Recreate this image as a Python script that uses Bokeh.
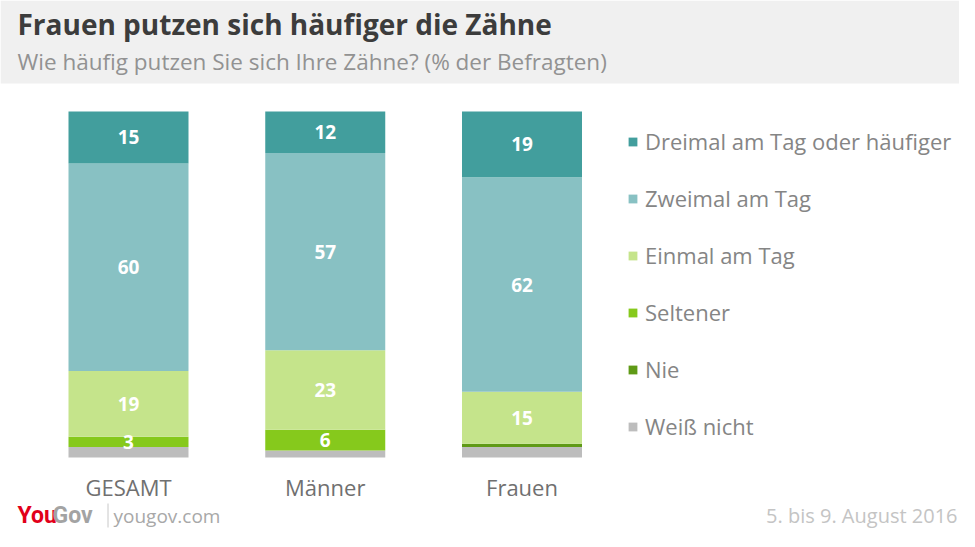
from bokeh.plotting import figure
from bokeh.models import Range1d, Legend, LegendItem, ColumnDataSource, Label, BoxAnnotation
from bokeh.embed import file_html
from bokeh.resources import INLINE
from bokeh.core.properties import value

# ---- data ----
title = "Frauen putzen sich häufiger die Zähne"
subtitle = "Wie häufig putzen Sie sich Ihre Zähne? (% der Befragten)"
groups = ["GESAMT", "Männer", "Frauen"]
series = ["Weiß nicht", "Nie", "Seltener", "Einmal am Tag", "Zweimal am Tag",
          "Dreimal am Tag oder häufiger"]
weiss_nicht = [3, 2, 3]
nie = [0, 0, 1]
seltener = [3, 6, 0]
einmal = [19, 23, 15]
zweimal = [60, 57, 62]
dreimal = [15, 12, 19]
colors = ["#bdbdbd", "#5f9a16", "#86c91c", "#c5e48b", "#88c1c3", "#429e9d"]
source_note = "yougov.com"
date_note = "5. bis 9. August 2016"

# ---- geometry (canvas = frame, pixel positions measured from top-left) ----
W, H = 959, 531
GROUP_PX = 196.75          # pixels between group centres
PCT_PX = 3.46              # pixels per percentage point
X0 = -128 / GROUP_PX       # first bar centred at x=128 px
Y0 = -(H - 457) / PCT_PX   # bar baseline at y=457 px
FONT = "Open Sans"


def dx(px):
    return X0 + px / GROUP_PX


def dy(py):
    return Y0 + (H - py) / PCT_PX


p = figure(width=W, height=H, x_range=Range1d(X0, X0 + W / GROUP_PX),
           y_range=Range1d(Y0, Y0 + H / PCT_PX),
           output_backend="svg", toolbar_location=None, min_border=0)
p.axis.visible = False
p.grid.visible = False
p.outline_line_color = None

# header band
p.add_layout(BoxAnnotation(bottom=dy(83), fill_color="#f0f0f0", fill_alpha=1,
                           line_alpha=0, level="underlay"))
p.add_layout(Label(x=dx(17), y=dy(23), text=title, text_font=FONT, text_font_size="28px",
                   text_font_style="bold", text_color="#3c3c3c", text_baseline="middle"))
p.add_layout(Label(x=dx(17), y=dy(61), text=subtitle, text_font=FONT, text_font_size="22.5px",
                   text_color="#929292", text_baseline="middle"))

# bars
keys = ["wn", "nie", "sel", "ein", "zwei", "drei"]
stack = [weiss_nicht, nie, seltener, einmal, zweimal, dreimal]
xi = list(range(len(groups)))
src = ColumnDataSource(dict(x=xi, group=groups, **{k: v for k, v in zip(keys, stack)}))
rs = p.vbar_stack(keys, x="x", width=120 / GROUP_PX, color=colors, line_color=None, source=src)

# value labels
lx, ly, lt = [], [], []
for gi in xi:
    base = 0
    for si, vals in enumerate(stack):
        v = vals[gi]
        if si >= 2 and v >= 3:
            lx.append(gi)
            ly.append(base + v / 2)
            lt.append(str(v))
        base += v
p.text(x=lx, y=ly, text=lt, text_align="center", text_baseline="middle",
       text_color="white", text_font=value(FONT), text_font_size="19px",
       text_font_style="bold")

# category labels
p.text(x=xi, y=[dy(486)] * len(xi), text=groups, text_align="center", text_baseline="middle",
       text_color="#707070", text_font=value(FONT), text_font_size="22px")

# legend
items = [LegendItem(label=series[i], renderers=[rs[i]]) for i in reversed(range(len(series)))]
legend = Legend(items=items, location=(627, 90), orientation="vertical",
                border_line_color=None, background_fill_alpha=0,
                glyph_width=11, glyph_height=11, label_standoff=7, spacing=27,
                padding=0, margin=0, label_height=20,
                label_text_font=FONT, label_text_font_size="22px", label_text_color="#858585")
p.add_layout(legend, "center")

# footer
FY = 515
p.add_layout(Label(x=dx(17), y=dy(FY), text="You", text_font="Roboto", text_font_size="23px",
                   text_font_style="bold", text_color="#e2001a", text_baseline="middle"))
p.add_layout(Label(x=dx(52), y=dy(FY), text="Gov", text_font="Roboto", text_font_size="23px",
                   text_font_style="bold", text_color="#a3a3a3", text_baseline="middle"))
p.segment(x0=[dx(107.5)], y0=[dy(FY - 12)], x1=[dx(107.5)], y1=[dy(FY + 12)],
          line_color="#c8c8c8", line_width=1)
p.add_layout(Label(x=dx(113), y=dy(FY), text=source_note, text_font=FONT, text_font_size="19px",
                   text_color="#a8a8a8", text_baseline="middle"))
p.add_layout(Label(x=dx(957), y=dy(FY), text=date_note, text_font=FONT, text_font_size="20px",
                   text_color="#c4c4c4", text_baseline="middle", text_align="right"))

open("out.html", "w").write(file_html(p, INLINE))
